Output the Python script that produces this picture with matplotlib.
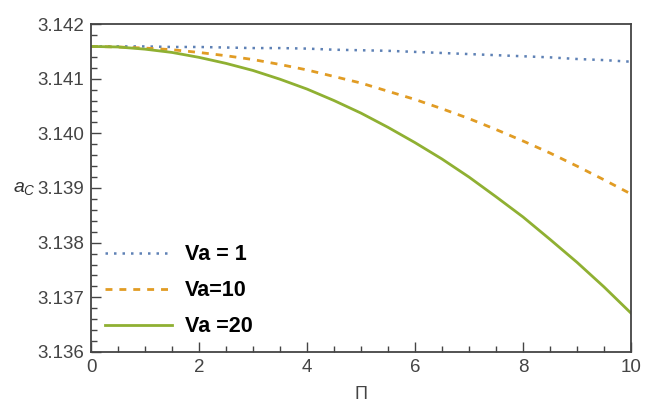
import numpy as np
import matplotlib
matplotlib.use("Agg")
import matplotlib.pyplot as plt
from matplotlib.ticker import MultipleLocator

plt.rcParams['font.family'] = ['Liberation Sans', 'DejaVu Sans']
plt.rcParams['mathtext.fontset'] = 'custom'
plt.rcParams['mathtext.it'] = 'Liberation Sans:italic'
plt.rcParams['mathtext.rm'] = 'Liberation Sans'

# critical value a_c against Pi for three values of Va
pi_vals = [0, 0.5, 1, 1.5, 2, 2.5, 3, 3.5, 4, 4.5, 5,
           5.5, 6, 6.5, 7, 7.5, 8, 8.5, 9, 9.5, 10]
ac_va1 = [3.14159, 3.14159, 3.14159, 3.14158, 3.14158, 3.14157, 3.14156,
          3.14156, 3.14155, 3.14153, 3.14152, 3.14151, 3.14149, 3.14147,
          3.14145, 3.14143, 3.14141, 3.14139, 3.14136, 3.14134, 3.14131]
ac_va10 = [3.14159, 3.14158, 3.14156, 3.14153, 3.14148, 3.14142, 3.14135,
           3.14126, 3.14116, 3.14104, 3.14092, 3.14077, 3.14062, 3.14045,
           3.14027, 3.14007, 3.13986, 3.13964, 3.13940, 3.13915, 3.13889]
ac_va20 = [3.14159, 3.14158, 3.14154, 3.14148, 3.14139, 3.14128, 3.14115,
           3.14099, 3.14081, 3.14060, 3.14037, 3.14011, 3.13983, 3.13953,
           3.13920, 3.13884, 3.13847, 3.13806, 3.13764, 3.13719, 3.13671]
labels = ['Va = 1', 'Va=10', 'Va =20']

fig = plt.figure(figsize=(6.5, 4.03), dpi=100)
ax = fig.add_axes([0.14, 0.1266, 0.8308, 0.8138])

ax.plot(pi_vals, ac_va1, color='#5e81b5', ls=(0, (1, 2.4)), lw=1.8, label=labels[0])
ax.plot(pi_vals, ac_va10, color='#e19c24', ls=(0, (2.5, 2.5)), lw=2.0, label=labels[1])
ax.plot(pi_vals, ac_va20, color='#8fb032', ls='-', lw=2.0, label=labels[2])

ax.set_xlim(0, 10)
ax.set_ylim(3.136, 3.142)
ax.xaxis.set_major_locator(MultipleLocator(2))
ax.xaxis.set_minor_locator(MultipleLocator(0.5))
ax.yaxis.set_major_locator(MultipleLocator(0.001))
ax.yaxis.set_minor_locator(MultipleLocator(0.0002))
ax.yaxis.set_major_formatter(plt.FormatStrFormatter('%.3f'))

for s in ax.spines.values():
    s.set_color('#444444')
    s.set_linewidth(1.3)
ax.tick_params(which='both', direction='in', top=False, right=False,
               color='#444444', width=1.0, labelcolor='#444444', labelsize=13.5)
ax.tick_params(which='major', length=7, pad=5)
ax.tick_params(which='minor', length=4)

fig.text(0.555, 0.022, 'Π', fontsize=13, color='#444444', ha='center', va='center')
fig.text(0.038, 0.533, r'$a_C$', fontsize=14, color='#333333', ha='center', va='center')

leg = ax.legend(loc='lower left', bbox_to_anchor=(0.026, 0.045), frameon=False,
                prop={'weight': 'bold', 'size': 15.5}, handlelength=3.1,
                handletextpad=0.6, labelspacing=0.7, borderpad=0, borderaxespad=0)

fig.savefig('out.png', dpi=100)
